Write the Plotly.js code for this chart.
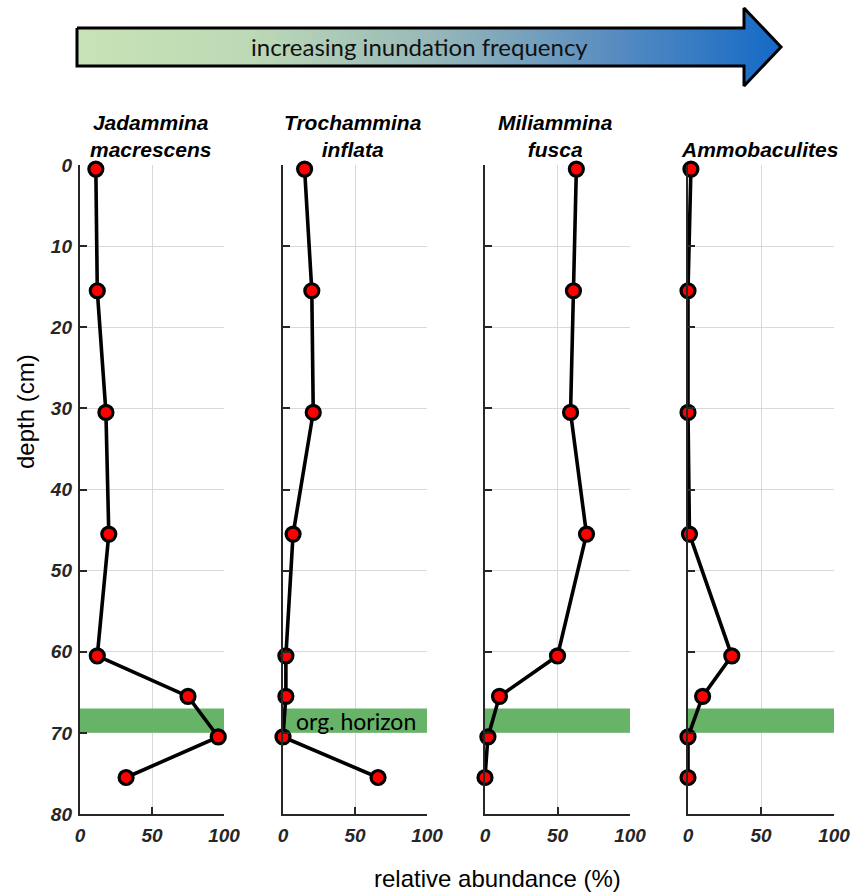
<!DOCTYPE html>
<html>
<head>
<meta charset="utf-8">
<script src="https://cdn.plot.ly/plotly-3.0.1.min.js"></script>
<style>html,body{margin:0;padding:0;background:#fff;}#chart{width:857px;height:892px;}</style>
</head>
<body>
<div id="chart"></div>
<script>
// ---- data ----
const depths = [0.5, 15.5, 30.5, 45.5, 60.5, 65.5, 70.5, 75.5];
const taxa = ["Jadammina<br>macrescens", "Trochammina<br>inflata", "Miliammina<br>fusca", "Ammobaculites"];
const jadammina = [11, 12, 18, 20, 12, 75, 96, 32];
const trochammina = [15, 20, 21, 7, 2, 2, 0, 66];
const miliammina = [63, 61, 59, 70, 50, 10, 2, 0];
const ammobaculites = [2, 0, 0, 1, 30, 10, 0, 0];
const seriesValues = [jadammina, trochammina, miliammina, ammobaculites];
const orgHorizon = [67, 70];
const xTicks = [0, 50, 100];
const yTicks = [0, 10, 20, 30, 40, 50, 60, 70, 80];
const arrowLabel = "increasing inundation frequency";
const orgLabel = "org. horizon";
const xTitle = "relative abundance (%)";
const yTitle = "depth (cm)";

// ---- layout helpers ----
const W = 857, H = 892;
const panelPx = [[80, 224], [283, 427], [485, 630], [688, 834]];
const yTopPx = 165, yBotPx = 814;
const yDom = [(H - yBotPx) / H, (H - yTopPx) / H];
const axisColor = '#262626';
const gridColor = '#d9d9d9';
const tickFont = {family: 'Arial, Liberation Sans, sans-serif', size: 19, color: '#262626', weight: 'bold', style: 'italic'};

const traces = [];
const layout = {
  width: W, height: H,
  margin: {l: 0, r: 0, t: 0, b: 0},
  paper_bgcolor: '#fff', plot_bgcolor: 'rgba(0,0,0,0)',
  showlegend: false,
  shapes: [], annotations: []
};

seriesValues.forEach((vals, i) => {
  const n = i + 1;
  const xa = 'xaxis' + (n === 1 ? '' : n);
  const ya = 'yaxis' + (n === 1 ? '' : n);
  const xr = 'x' + (n === 1 ? '' : n);
  const yr = 'y' + (n === 1 ? '' : n);
  traces.push({
    type: 'scatter', mode: 'lines+markers',
    x: vals, y: depths, xaxis: xr, yaxis: yr,
    line: {color: '#000', width: 3.6},
    marker: {color: '#ff0000', size: 14, line: {color: '#000', width: 3.2}},
    cliponaxis: false, hoverinfo: 'skip'
  });
  layout[xa] = {
    domain: [panelPx[i][0] / W, panelPx[i][1] / W],
    range: [0, 100], anchor: yr,
    tickvals: xTicks, ticktext: xTicks.map(String),
    ticks: 'inside', ticklen: 7, tickwidth: 2, tickcolor: axisColor,
    showline: true, linecolor: axisColor, linewidth: 2.2,
    showgrid: true, gridcolor: gridColor, gridwidth: 1,
    zeroline: false, tickfont: tickFont, ticklabelstandoff: 3
  };
  layout[ya] = {
    domain: yDom, range: [80, 0], anchor: xr,
    tickvals: yTicks, ticktext: yTicks.map(String),
    showticklabels: n === 1,
    ticks: 'inside', ticklen: 7, tickwidth: 2, tickcolor: axisColor,
    showline: true, linecolor: axisColor, linewidth: 2.2,
    showgrid: true, gridcolor: gridColor, gridwidth: 1,
    zeroline: false, tickfont: tickFont, ticklabelstandoff: 2
  };
  layout.shapes.push({
    type: 'rect', xref: xr, yref: yr, x0: 0, x1: 100, y0: orgHorizon[0], y1: orgHorizon[1],
    fillcolor: '#67b468', line: {width: 0}, layer: 'between'
  });
  layout.annotations.push({
    xref: 'paper', yref: 'paper',
    x: (panelPx[i][0] + panelPx[i][1]) / 2 / W - 2 / W, y: yDom[1] + 2 / H,
    xanchor: 'center', yanchor: 'bottom', showarrow: false,
    text: taxa[i],
    font: {family: 'Arial, Liberation Sans, sans-serif', size: 21, color: '#000', weight: 'bold', style: 'italic'}
  });
});

// org horizon label in panel 2
layout.annotations.push({
  xref: 'x2', yref: 'y2', x: 51, y: (orgHorizon[0] + orgHorizon[1]) / 2,
  text: orgLabel, showarrow: false, xanchor: 'center', yanchor: 'middle',
  font: {family: 'Lato, Open Sans, sans-serif', size: 23, color: '#000'}
});

// axis titles
layout.annotations.push({
  xref: 'paper', yref: 'paper', x: 25 / W, y: (H - 412) / H,
  text: yTitle, textangle: -90, showarrow: false, xanchor: 'center', yanchor: 'middle',
  font: {family: 'Arial, Liberation Sans, sans-serif', size: 24, color: '#000'}
});
layout.annotations.push({
  xref: 'paper', yref: 'paper', x: 497 / W, y: (H - 878) / H,
  text: xTitle, showarrow: false, xanchor: 'center', yanchor: 'middle',
  font: {family: 'Arial, Liberation Sans, sans-serif', size: 24, color: '#000'}
});

// decorative gradient arrow on an overlay pixel axis
layout.xaxis5 = {domain: [0, 1], range: [0, W], visible: false, fixedrange: true};
layout.yaxis5 = {domain: [0, 1], range: [H, 0], visible: false, fixedrange: true, anchor: 'x5'};
traces.push({
  type: 'scatter', mode: 'lines', xaxis: 'x5', yaxis: 'y5',
  x: [77, 744, 744, 781, 744, 744, 77, 77],
  y: [28, 28, 8, 47, 86, 66, 66, 28],
  fill: 'toself',
  fillgradient: {type: 'horizontal', colorscale: [[0, '#c8e3b6'], [0.25, '#bcd9b5'], [0.5, '#98b9b9'], [0.75, '#5b8ec0'], [1, '#1469c6']]},
  line: {color: '#000', width: 3}, hoverinfo: 'skip'
});
layout.annotations.push({
  xref: 'paper', yref: 'paper', x: 419 / W, y: (H - 47) / H,
  text: arrowLabel, showarrow: false, xanchor: 'center', yanchor: 'middle',
  font: {family: 'Lato, Open Sans, sans-serif', size: 24, color: '#111'}
});

Plotly.newPlot('chart', traces, layout, {staticPlot: true, displayModeBar: false});
</script>
</body>
</html>
